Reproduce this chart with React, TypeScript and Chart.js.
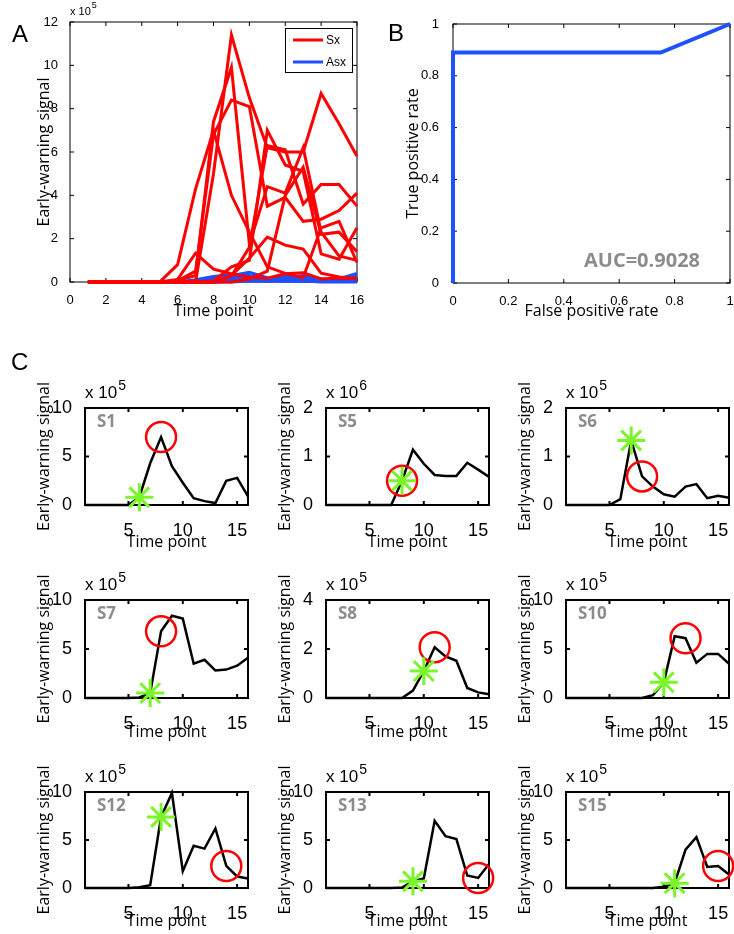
import React, { useEffect, useRef } from "react";
import { Chart, registerables } from "chart.js";

Chart.register(...registerables);

const TICK_FONT = '"Liberation Sans", Arial, sans-serif';
const TITLE_FONT = '"Open Sans", "Noto Sans", sans-serif';
const RED = "#ff0000";
const BLUE = "#1f50ff";
const GREEN = "#79f52a";
const GRAY = "#8c8c8c";

const TIME_POINTS = [1, 2, 3, 4, 5, 6, 7, 8, 9, 10, 11, 12, 13, 14, 15, 16];

// Symptomatic subjects (panel C); values in units of 10^exponent
const SX_NAMES = ["S1", "S5", "S6", "S7", "S8", "S10", "S12", "S13", "S15"];
const SX_EXPONENTS = [5, 6, 5, 5, 5, 5, 5, 5, 5];
const S1 = [0, 0, 0, 0, 0, 0.8, 4.3, 7.0, 4.0, 2.3, 0.7, 0.4, 0.2, 2.5, 2.8, 0.9];
const S5 = [0, 0, 0, 0, 0, 0, 0, 0.5, 1.14, 0.85, 0.62, 0.6, 0.6, 0.87, 0.73, 0.58];
const S6 = [0, 0, 0, 0, 0, 0.12, 1.33, 0.59, 0.38, 0.22, 0.17, 0.38, 0.43, 0.14, 0.19, 0.15];
const S7 = [0, 0, 0, 0, 0, 0.05, 0.5, 6.8, 8.4, 8.1, 3.5, 3.9, 2.8, 2.9, 3.3, 4.1];
const S8 = [0, 0, 0, 0, 0, 0, 0, 0, 0.3, 1.1, 2.07, 1.7, 1.52, 0.41, 0.23, 0.15];
const S10 = [0, 0, 0, 0, 0, 0, 0, 0, 0.28, 1.6, 6.3, 6.1, 3.6, 4.5, 4.5, 3.5];
const S12 = [0, 0, 0, 0, 0, 0.07, 0.3, 7.4, 9.9, 1.75, 4.4, 4.1, 6.2, 2.3, 1.2, 1.0];
const S13 = [0, 0, 0, 0, 0, 0, 0, 0.05, 0.7, 1.0, 7.0, 5.4, 5.1, 1.3, 1.05, 2.5];
const S15 = [0, 0, 0, 0, 0, 0, 0, 0, 0, 0.14, 0.5, 4.0, 5.3, 2.2, 2.3, 1.4];
const SX_SERIES = [S1, S5, S6, S7, S8, S10, S12, S13, S15];
const SX_Y_TICKS = [
  [0, 5, 10], [0, 1, 2], [0, 1, 2],
  [0, 5, 10], [0, 2, 4], [0, 5, 10],
  [0, 5, 10], [0, 5, 10], [0, 5, 10],
];
const STAR_TIMES = [6, 8, 7, 7, 10, 10, 8, 9, 11];
const CIRCLE_TIMES = [8, 8, 8, 8, 11, 12, 14, 15, 15];

// Asymptomatic subjects (panel A), units of 10^5
const ASX1 = [0, 0, 0, 0, 0, 0, 0.05, 0.2, 0.3, 0.45, 0.2, 0.15, 0.1, 0.1, 0.15, 0.4];
const ASX2 = [0, 0, 0, 0, 0, 0, 0.1, 0.25, 0.35, 0.3, 0.15, 0.3, 0.2, 0.1, 0.1, 0.2];
const ASX3 = [0, 0, 0, 0, 0, 0, 0, 0.1, 0.2, 0.25, 0.1, 0.2, 0.3, 0.15, 0.1, 0.3];
const ASX4 = [0, 0, 0, 0, 0, 0, 0, 0.05, 0.1, 0.15, 0.1, 0.1, 0.1, 0.05, 0.05, 0.1];
const ASX5 = [0, 0, 0, 0, 0, 0, 0, 0, 0.05, 0.1, 0.05, 0.1, 0.05, 0.05, 0.05, 0.05];
const ASX6 = [0, 0, 0, 0, 0, 0, 0.05, 0.15, 0.3, 0.2, 0.1, 0.05, 0.05, 0.05, 0.05, 0.05];
const ASX7 = [0, 0, 0, 0, 0, 0, 0, 0, 0, 0.05, 0.05, 0.05, 0.05, 0, 0, 0];
const ASX8 = [0, 0, 0, 0, 0, 0, 0, 0, 0.05, 0.05, 0.05, 0.05, 0.05, 0.05, 0.05, 0.05];
const ASX_SERIES = [ASX1, ASX2, ASX3, ASX4, ASX5, ASX6, ASX7, ASX8];

const LEGEND_LABELS = ["Sx", "Asx"];
const LEGEND_COLORS = [RED, BLUE];

const A_X_TICKS = [0, 2, 4, 6, 8, 10, 12, 14, 16];
const A_Y_TICKS = [0, 2, 4, 6, 8, 10, 12];

// ROC curve (panel B)
const ROC_FPR = [0, 0, 0.75, 1];
const ROC_TPR = [0, 0.89, 0.89, 1];
const B_TICKS = [0, 0.2, 0.4, 0.6, 0.8, 1];
const AUC_TEXT = "AUC=0.9028";

const C_X_TICKS = [5, 10, 15];

type Rect = { l: number; t: number; r: number; b: number };
type Box = { x: number; y: number; w: number; h: number };
interface PanelSpec {
  plot: Rect;
  canvas: Box;
  xMin: number; xMax: number; xTicks: number[];
  yMin: number; yMax: number; yTicks: number[];
  xTitle: string; yTitle: string;
  xTitleSize: number; yTitleSize: number;
  xTitleY: number; yTitleX: number;
  tickSize: number; xTickPad: number; yTickPad: number;
  boxWidth: number; tickLen: number;
  datasets: any[];
  decorate?: (ctx: CanvasRenderingContext2D, a: any) => void;
}

function drawExponent(ctx: CanvasRenderingContext2D, x: number, baseY: number, exp: number, size: number, supSize: number, supRise: number) {
  ctx.save();
  ctx.fillStyle = "#000";
  ctx.textAlign = "left";
  ctx.textBaseline = "alphabetic";
  ctx.font = `${size}px ${TICK_FONT}`;
  const t = "x 10";
  ctx.fillText(t, x, baseY);
  const w = ctx.measureText(t).width;
  ctx.font = `${supSize}px ${TICK_FONT}`;
  ctx.fillText(String(exp), x + w + 1, baseY - supRise);
  ctx.restore();
}

function buildConfig(s: PanelSpec): any {
  const { plot, canvas } = s;
  const xLh = s.xTitleSize * 1.2;
  const yLh = s.yTitleSize * 1.2;
  const axesPlugin = {
    id: "matlabAxes",
    beforeDatasetsDraw(chart: any) {
      const ctx = chart.ctx;
      const { left, top, right, bottom } = chart.chartArea;
      const xs = chart.scales.x;
      const ys = chart.scales.y;
      ctx.save();
      ctx.strokeStyle = "#000";
      ctx.lineWidth = s.boxWidth;
      ctx.strokeRect(left, top, right - left, bottom - top);
      ctx.beginPath();
      s.xTicks.forEach((v) => {
        const px = xs.getPixelForValue(v);
        ctx.moveTo(px, bottom);
        ctx.lineTo(px, bottom - s.tickLen);
        ctx.moveTo(px, top);
        ctx.lineTo(px, top + s.tickLen);
      });
      s.yTicks.forEach((v) => {
        const py = ys.getPixelForValue(v);
        ctx.moveTo(left, py);
        ctx.lineTo(left + s.tickLen, py);
        ctx.moveTo(right, py);
        ctx.lineTo(right - s.tickLen, py);
      });
      ctx.stroke();
      ctx.restore();
    },
    afterDraw(chart: any) {
      if (s.decorate) s.decorate(chart.ctx, chart.chartArea);
    },
  };
  return {
    type: "line",
    data: { datasets: s.datasets },
    options: {
      animation: false,
      responsive: false,
      events: [],
      layout: {
        padding: {
          left: 0,
          top: plot.t - canvas.y,
          right: canvas.x + canvas.w - plot.r,
          bottom: 0,
        },
      },
      plugins: { legend: { display: false }, tooltip: { enabled: false } },
      scales: {
        x: {
          type: "linear",
          min: s.xMin,
          max: s.xMax,
          grid: { display: false },
          border: { display: false },
          afterBuildTicks: (sc: any) => {
            sc.ticks = s.xTicks.map((v) => ({ value: v }));
          },
          afterFit: (sc: any) => {
            sc.height = canvas.y + canvas.h - plot.b;
          },
          ticks: {
            autoSkip: false,
            maxRotation: 0,
            minRotation: 0,
            padding: s.xTickPad,
            color: "#000",
            font: { family: TICK_FONT, size: s.tickSize },
            callback: (v: any) => String(v),
          },
          title: {
            display: true,
            text: s.xTitle,
            color: "#000",
            font: { family: TITLE_FONT, size: s.xTitleSize },
            padding: { top: 0, bottom: canvas.y + canvas.h - s.xTitleY - xLh / 2 },
          },
        },
        y: {
          type: "linear",
          min: s.yMin,
          max: s.yMax,
          grid: { display: false },
          border: { display: false },
          afterBuildTicks: (sc: any) => {
            sc.ticks = s.yTicks.map((v) => ({ value: v }));
          },
          afterFit: (sc: any) => {
            sc.width = plot.l - canvas.x;
          },
          ticks: {
            autoSkip: false,
            padding: s.yTickPad,
            color: "#000",
            font: { family: TICK_FONT, size: s.tickSize },
            callback: (v: any) => String(v),
          },
          title: {
            display: true,
            text: s.yTitle,
            color: "#000",
            font: { family: TITLE_FONT, size: s.yTitleSize },
            padding: { top: s.yTitleX - canvas.x - yLh / 2, bottom: 0 },
          },
        },
      },
    },
    plugins: [axesPlugin],
  };
}

function ChartCanvas({ spec }: { spec: PanelSpec }) {
  const ref = useRef<HTMLCanvasElement>(null);
  useEffect(() => {
    const chart = new Chart(ref.current as HTMLCanvasElement, buildConfig(spec));
    return () => chart.destroy();
  }, []);
  const c = spec.canvas;
  return (
    <canvas
      ref={ref}
      width={c.w}
      height={c.h}
      style={{ position: "absolute", left: c.x, top: c.y, width: c.w, height: c.h }}
    />
  );
}

const toPoints = (vals: number[], factor = 1) =>
  TIME_POINTS.map((t, k) => ({ x: t, y: vals[k] * factor }));

function panelASpec(): PanelSpec {
  const red = SX_SERIES.map((vals, i) => ({
    label: "Sx",
    data: toPoints(vals, Math.pow(10, SX_EXPONENTS[i] - 5)),
    borderColor: RED,
    borderWidth: 3,
    pointRadius: 0,
    fill: false,
    order: 0,
    clip: false,
  }));
  const blue = ASX_SERIES.map((vals) => ({
    label: "Asx",
    data: toPoints(vals),
    borderColor: BLUE,
    borderWidth: 3,
    pointRadius: 0,
    fill: false,
    order: 1,
    clip: false,
  }));
  return {
    plot: { l: 70, t: 22, r: 357, b: 282 },
    canvas: { x: 28, y: 0, w: 342, h: 325 },
    xMin: 0, xMax: 16, xTicks: A_X_TICKS,
    yMin: 0, yMax: 12, yTicks: A_Y_TICKS,
    xTitle: "Time point", yTitle: "Early-warning signal",
    xTitleSize: 16, yTitleSize: 16,
    xTitleY: 311, yTitleX: 44,
    tickSize: 13, xTickPad: 3, yTickPad: 4,
    boxWidth: 1, tickLen: 4,
    datasets: [...red, ...blue],
    decorate: (ctx, a) => {
      drawExponent(ctx, a.left, a.top - 7, 5, 11, 9, 7);
      const bx = a.right - 72;
      const by = a.top + 6;
      ctx.save();
      ctx.fillStyle = "#fff";
      ctx.fillRect(bx, by, 67, 44);
      ctx.strokeStyle = "#000";
      ctx.lineWidth = 1;
      ctx.strokeRect(bx + 0.5, by + 0.5, 67, 44);
      LEGEND_LABELS.forEach((lab, i) => {
        const y = by + 12 + i * 22;
        ctx.strokeStyle = LEGEND_COLORS[i];
        ctx.lineWidth = 3;
        ctx.beginPath();
        ctx.moveTo(bx + 8, y);
        ctx.lineTo(bx + 38, y);
        ctx.stroke();
        ctx.fillStyle = "#000";
        ctx.font = `12px ${TICK_FONT}`;
        ctx.textAlign = "left";
        ctx.textBaseline = "middle";
        ctx.fillText(lab, bx + 41, y + 1);
      });
      ctx.restore();
    },
  };
}

function panelBSpec(): PanelSpec {
  return {
    plot: { l: 453, t: 24, r: 730, b: 283 },
    canvas: { x: 393, y: 0, w: 355, h: 325 },
    xMin: 0, xMax: 1, xTicks: B_TICKS,
    yMin: 0, yMax: 1, yTicks: B_TICKS,
    xTitle: "False positive rate", yTitle: "True positive rate",
    xTitleSize: 16, yTitleSize: 16,
    xTitleY: 311, yTitleX: 413,
    tickSize: 13, xTickPad: 3, yTickPad: 6,
    boxWidth: 1, tickLen: 4,
    datasets: [
      {
        label: "ROC",
        data: ROC_FPR.map((x, i) => ({ x, y: ROC_TPR[i] })),
        borderColor: BLUE,
        borderWidth: 4,
        pointRadius: 0,
        fill: false,
        clip: false,
      },
    ],
    decorate: (ctx, a) => {
      ctx.save();
      ctx.fillStyle = GRAY;
      ctx.font = `bold 20px ${TITLE_FONT}`;
      ctx.textAlign = "right";
      ctx.textBaseline = "alphabetic";
      ctx.fillText(AUC_TEXT, a.right - 30, a.bottom - 16);
      ctx.restore();
    },
  };
}

const C_LEFTS = [85, 326, 566];
const C_RIGHTS = [248, 489, 729];
const C_TOPS = [408, 600, 792];
const C_BOTTOMS = [505, 698, 888];
const C_TITLE_OFFSETS = [37, 34, 33];

function panelCSpec(i: number): PanelSpec {
  const row = Math.floor(i / 3);
  const col = i % 3;
  const L = C_LEFTS[col], R = C_RIGHTS[col], T = C_TOPS[row], B = C_BOTTOMS[row];
  const vals = SX_SERIES[i];
  const st = STAR_TIMES[i];
  const ct = CIRCLE_TIMES[i];
  const yt = SX_Y_TICKS[i];
  return {
    plot: { l: L, t: T, r: R, b: B },
    canvas: { x: L - 52, y: T - 30, w: R - L + 52 + 18, h: B - T + 30 + 46 },
    xMin: 1, xMax: 16, xTicks: C_X_TICKS,
    yMin: yt[0], yMax: yt[yt.length - 1], yTicks: yt,
    xTitle: "Time point", yTitle: "Early-warning signal",
    xTitleSize: 16, yTitleSize: 16,
    xTitleY: B + C_TITLE_OFFSETS[row], yTitleX: L - 40.5,
    tickSize: 18, xTickPad: 7, yTickPad: 5,
    boxWidth: 2, tickLen: 4,
    datasets: [
      {
        label: "onset",
        data: [{ x: st, y: vals[st - 1] }],
        showLine: false,
        pointStyle: "star",
        pointRadius: 14,
        pointHoverRadius: 14,
        pointBorderWidth: 3,
        pointBorderColor: GREEN,
        pointBackgroundColor: "rgba(0,0,0,0)",
        borderColor: GREEN,
        order: 0,
        clip: false,
      },
      {
        label: "peak",
        data: [{ x: ct, y: vals[ct - 1] }],
        showLine: false,
        pointStyle: "circle",
        pointRadius: 15,
        pointHoverRadius: 15,
        pointBorderWidth: 2.5,
        pointBorderColor: RED,
        pointBackgroundColor: "rgba(0,0,0,0)",
        borderColor: RED,
        order: 1,
        clip: false,
      },
      {
        label: SX_NAMES[i],
        data: toPoints(vals),
        borderColor: "#000",
        borderWidth: 2.5,
        pointRadius: 0,
        fill: false,
        order: 2,
        clip: false,
      },
    ],
    decorate: (ctx, a) => {
      drawExponent(ctx, a.left, a.top - 10, SX_EXPONENTS[i], 17, 14, 8);
      ctx.save();
      ctx.fillStyle = GRAY;
      ctx.font = `bold 17px ${TITLE_FONT}`;
      ctx.textAlign = "left";
      ctx.textBaseline = "alphabetic";
      ctx.fillText(SX_NAMES[i], a.left + 12, a.top + 19);
      ctx.restore();
    },
  };
}

const letterStyle = (left: number, top: number): React.CSSProperties => ({
  position: "absolute",
  left,
  top,
  fontFamily: TICK_FONT,
  fontSize: 24,
  lineHeight: "24px",
  color: "#000",
});

export default function App() {
  const specs: PanelSpec[] = [panelASpec(), panelBSpec(), ...SX_NAMES.map((_, i) => panelCSpec(i))];
  return (
    <div
      style={{
        position: "absolute",
        left: 0,
        top: 0,
        width: 734,
        height: 934,
        overflow: "hidden",
        background: "#fff",
      }}
    >
      {specs.map((s, i) => (
        <ChartCanvas key={i} spec={s} />
      ))}
      <div style={letterStyle(12, 22)}>A</div>
      <div style={letterStyle(388, 21)}>B</div>
      <div style={letterStyle(11, 350)}>C</div>
    </div>
  );
}
